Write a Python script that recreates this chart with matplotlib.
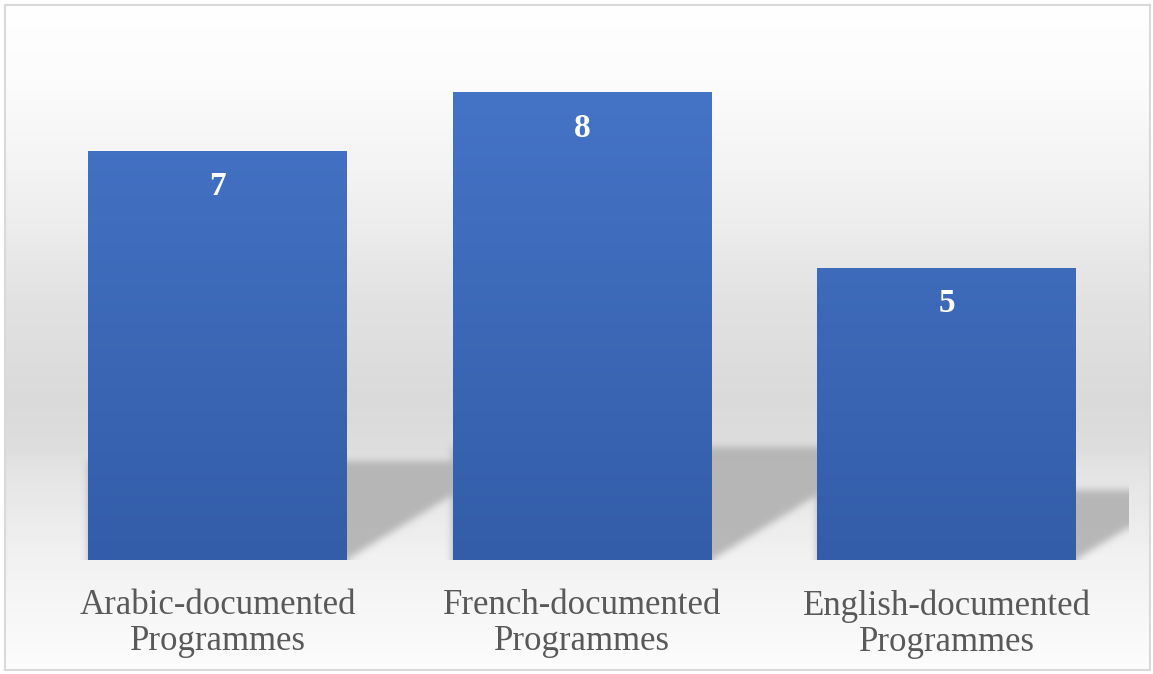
import numpy as np
import matplotlib
matplotlib.use('Agg')
import matplotlib.pyplot as plt
from matplotlib.path import Path as MplPath

# données du graphique
categories = ["Arabic-documented\nProgrammes",
              "French-documented\nProgrammes",
              "English-documented\nProgrammes"]
valeurs = [7, 8, 5]

W, H, DPI = 1153, 674, 100
fig = plt.figure(figsize=(W / DPI, H / DPI), dpi=DPI)
fig.patch.set_facecolor("white")


def box_blur(img, r, passes=3):
    """flou simple (box blur répété) sur les deux axes"""
    out = img.astype(float)
    for _ in range(passes):
        for axis in (0, 1):
            pad = [(0, 0), (0, 0)]
            pad[axis] = (r + 1, r)
            p = np.pad(out, pad, mode="edge")
            c = np.cumsum(p, axis=axis)
            if axis == 0:
                out = (c[2 * r + 1:, :] - c[:-2 * r - 1, :]) / (2 * r + 1)
            else:
                out = (c[:, 2 * r + 1:] - c[:, :-2 * r - 1]) / (2 * r + 1)
    return np.clip(out, 0, 1)


# fond dégradé avec cadre gris clair
bx0, by0, bx1, by1 = 5, 5, 1150, 670
ax_bg = fig.add_axes([bx0 / W, 1 - by1 / H, (bx1 - bx0) / W, (by1 - by0) / H], zorder=0)
rows = np.arange(by0, by1)
stops_y = [0, 80, 200, 300, 400, 450, 470, 560, 674]
stops_g = [255, 252, 240, 226, 218, 222, 228, 242, 253]
gris = np.interp(rows, stops_y, stops_g) / 255.0
fond = np.repeat(gris[:, None, None], 3, axis=2)
ax_bg.imshow(fond, aspect="auto", extent=[0, 1, 0, 1], interpolation="nearest")
ax_bg.set_xticks([])
ax_bg.set_yticks([])
for s in ax_bg.spines.values():
    s.set_color("#d9d9d9")
    s.set_linewidth(1.5)

# axes principaux
ax_l, ax_r, ax_t, ax_b = 35.25, 1128.75, 33.5, 560
ax = fig.add_axes([ax_l / W, 1 - ax_b / H, (ax_r - ax_l) / W, (ax_b - ax_t) / H], zorder=1)
ax.set_facecolor("none")
ax.set_xlim(-0.5, 2.5)
ax.set_ylim(0, 9)
x = np.arange(len(valeurs))
largeur = 0.71

# ombres portées des barres (parallélogrammes flous), seulement sur la bande basse
y_max_ombre = 3.0
nx, ny = int(ax_r - ax_l), int((ax_b - ax_t) * y_max_ombre / 9)
gx = np.linspace(-0.5, 2.5, nx)
gy = np.linspace(y_max_ombre, 0, ny)
XX, YY = np.meshgrid(gx, gy)
pts = np.column_stack([XX.ravel(), YY.ravel()])
masque = np.zeros(XX.shape)
for xi, v in zip(x, valeurs):
    dx = 0.0626 * v
    hy = 0.24 * v
    poly = MplPath([(xi - largeur / 2, -0.5), (xi + largeur / 2, -0.5),
                    (xi + largeur / 2, 0), (xi + largeur / 2 + dx, hy),
                    (xi - largeur / 2 + dx, hy), (xi - largeur / 2, hy)])
    masque = np.maximum(masque, poly.contains_points(pts).reshape(XX.shape))
masque = box_blur(masque, 3)
ombre = np.zeros(XX.shape + (4,))
ombre[..., :3] = 0.70
ombre[..., 3] = masque * 0.92
ax.imshow(ombre, extent=[-0.5, 2.5, 0, y_max_ombre], aspect="auto", zorder=1,
          interpolation="nearest")

# barres avec dégradé vertical
barres = ax.bar(x, valeurs, width=largeur, color="#4472c4", zorder=2)
degrade = np.linspace(0, 1, 256)[:, None]
haut = np.array([0x45, 0x73, 0xc6]) / 255
bas = np.array([0x33, 0x5d, 0xa8]) / 255
img = haut[None, None, :] * (1 - degrade[..., None]) + bas[None, None, :] * degrade[..., None]
for b in barres:
    im = ax.imshow(img, extent=[b.get_x(), b.get_x() + b.get_width(), 0, 8],
                   aspect="auto", zorder=3, interpolation="nearest")
    im.set_clip_path(b)

# étiquettes de valeurs
for xi, v in zip(x, valeurs):
    ax.annotate(str(v), xy=(xi, v), xytext=(0, -26), textcoords="offset points",
                ha="center", va="center", color="white", fontsize=24,
                fontweight="bold", family="Liberation Serif", zorder=4)

ax.set_xticks(x)
ax.set_xticklabels(categories, fontsize=25, color="#595959",
                   family="Liberation Serif", linespacing=1.12)
ax.tick_params(axis="x", length=0, pad=21)
ax.set_yticks([])
for s in ax.spines.values():
    s.set_visible(False)
ax.set_xlim(-0.5, 2.5)
ax.set_ylim(0, 9)

fig.savefig("out.png", dpi=DPI)
plt.close(fig)
